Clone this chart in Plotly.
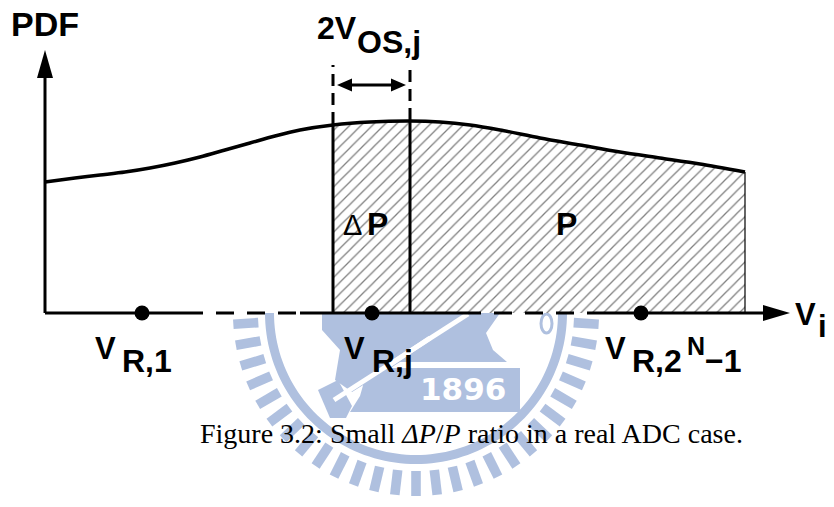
import math
import plotly.graph_objects as go

# ---- data -------------------------------------------------------------
# PDF of the ADC input, sampled along the Vi axis (origin at the axes corner)
vin = [0, 30, 55, 80, 105, 130, 155, 180, 205, 230, 255, 288, 325, 365,
       395, 425, 455, 495, 535, 575, 615, 655, 700]
pdf = [131, 135, 138, 141, 145, 150, 156, 163, 170, 177, 183, 188, 191, 192,
       191, 188, 183, 175, 168, 161, 155, 149, 141]
# reference levels V_R,1, V_R,j, V_R,2^N-1
vr_pos = [97, 327, 596]
# comparator offset window around V_R,j (edges of Delta P)
window = [288, 365]
# end of the input range
vin_max = 700

W, H = 834, 507
OX, OY = 45, 313          # page position of the axes corner
BLUE = "#afc0df"
FONT = "Liberation Sans, Arial, sans-serif"


def d(x, y):
    """page pixel -> data coordinates"""
    return x - OX, OY - y


def path(points, close=True):
    s = "M " + " L ".join(f"{x:.2f},{y:.2f}" for x, y in points)
    return s + (" Z" if close else "")


def ppath(points, close=True):
    return path([d(x, y) for x, y in points], close)


fig = go.Figure()
shapes = []

# ---- watermark emblem (lower half, behind everything) -----------------
cx, cy = d(416, 313)
# solid ring
r_in, r_out = 142, 151
ring = [(cx + r_out * math.cos(t), cy - r_out * math.sin(t))
        for t in [math.pi * i / 90 for i in range(91)]]
ring += [(cx + r_in * math.cos(t), cy - r_in * math.sin(t))
         for t in [math.pi * i / 90 for i in range(90, -1, -1)]]
shapes.append(dict(type="path", path=path(ring), fillcolor=BLUE,
                   line=dict(width=0), layer="below"))
# radial ticks
n_ticks = 27
for k in range(n_ticks):
    t = math.radians(3.5 + k * (173.0 / (n_ticks - 1)))
    ux, uy = math.cos(t), -math.sin(t)
    vx, vy = -uy, ux
    hw = 4.8
    r1, r2 = 158, 183
    pts = [(cx + ux * r1 + vx * hw, cy + uy * r1 + vy * hw),
           (cx + ux * r2 + vx * hw, cy + uy * r2 + vy * hw),
           (cx + ux * r2 - vx * hw, cy + uy * r2 - vy * hw),
           (cx + ux * r1 - vx * hw, cy + uy * r1 - vy * hw)]
    shapes.append(dict(type="path", path=path(pts), fillcolor=BLUE,
                       line=dict(width=0), layer="below"))
# inner emblem
emblem = [
    [(322, 313), (500, 313), (486, 333), (493, 350), (507, 362), (400, 362),
     (352, 392), (335, 380), (340, 350), (322, 330)],
    [(368, 368), (520, 368), (520, 412), (350, 412), (360, 396)],
    [(318, 390), (338, 380), (352, 406), (346, 418), (330, 418)],
]
for poly in emblem:
    shapes.append(dict(type="path", path=ppath(poly), fillcolor=BLUE,
                       line=dict(width=0), layer="below"))
for seg in [[(468, 314), (334, 400)], [(430, 338), (388, 366)]]:
    shapes.append(dict(type="path", path=ppath(seg, close=False),
                       line=dict(color="white", width=5), layer="below"))
shapes.append(dict(type="circle", xref="x", yref="y",
                   x0=d(541, 0)[0], x1=d(552, 0)[0], y0=d(0, 333)[1], y1=d(0, 314)[1],
                   line=dict(color=BLUE, width=3), layer="below"))

# ---- hatched region P (from V_R,j - V_OS,j to the end of the range) ----
i0 = vin.index(window[0])
fig.add_trace(go.Scatter(
    x=vin[i0:], y=pdf[i0:], mode="lines", fill="tozeroy",
    line=dict(width=0, shape="spline", smoothing=0.8),
    fillcolor="white",
    fillpattern=dict(shape="/", fgcolor="black", bgcolor="white",
                     size=8, solidity=0.16),
    hoverinfo="skip"))

# PDF curve
fig.add_trace(go.Scatter(
    x=vin, y=pdf, mode="lines",
    line=dict(color="black", width=3.5, shape="spline", smoothing=0.8),
    hoverinfo="skip"))

# window edges and right end of the range
for xv, w in [(window[0], 3), (window[1], 3), (vin_max, 1.2)]:
    yv = pdf[vin.index(xv)]
    shapes.append(dict(type="line", x0=xv, x1=xv, y0=0, y1=yv,
                       line=dict(color="black", width=w)))
# dashed extensions marking 2V_OS,j
for xv in window:
    yv = pdf[vin.index(xv)]
    shapes.append(dict(type="line", x0=xv, x1=xv, y0=yv + 1, y1=248,
                       line=dict(color="black", width=3, dash="12px,7px")))

# ---- axes ---------------------------------------------------------------
axis_w = 3
# Vi axis: solid and dashed pieces
for x0, x1, dash in [(0, 140, "solid"), (140, 255, "18px,13px"),
                     (255, 418, "solid"), (418, 552, "18px,13px"),
                     (552, 720, "solid")]:
    shapes.append(dict(type="line", x0=x0, x1=x1, y0=0, y1=0,
                       line=dict(color="black", width=axis_w, dash=dash)))
# PDF axis
shapes.append(dict(type="line", x0=0, x1=0, y0=0, y1=238,
                   line=dict(color="black", width=axis_w)))
# arrow heads
shapes.append(dict(type="path", path=path([(0, 263), (-8, 235), (8, 235)]),
                   fillcolor="black", line=dict(width=0)))
shapes.append(dict(type="path", path=path([(745, 0), (718, 8), (718, -8)]),
                   fillcolor="black", line=dict(width=0)))
# double arrow for 2V_OS,j
ya = 228
shapes.append(dict(type="line", x0=window[0] + 12, x1=window[1] - 12, y0=ya, y1=ya,
                   line=dict(color="black", width=3)))
shapes.append(dict(type="path",
                   path=path([(window[0] + 4, ya), (window[0] + 19, ya + 6.5),
                              (window[0] + 19, ya - 6.5)]),
                   fillcolor="black", line=dict(width=0)))
shapes.append(dict(type="path",
                   path=path([(window[1] - 4, ya), (window[1] - 19, ya + 6.5),
                              (window[1] - 19, ya - 6.5)]),
                   fillcolor="black", line=dict(width=0)))

# reference-level dots
fig.add_trace(go.Scatter(x=vr_pos, y=[0] * len(vr_pos), mode="markers",
                         marker=dict(color="black", size=15),
                         hoverinfo="skip"))

# ---- text ----------------------------------------------------------------
ann = []


def label(text, x, y, size=31, bold=True, anchor="left", family=FONT,
          color="black"):
    xd, yd = d(x, y)
    ann.append(dict(x=xd, y=yd, xref="x", yref="y", text=text, showarrow=False,
                    xanchor=anchor, yanchor="middle", borderpad=0,
                    font=dict(family=family, size=size, color=color,
                              weight="bold" if bold else "normal")))


label("1896", 463, 389, size=31, anchor="center",
      family="DejaVu Sans, sans-serif", color="white")

label("PDF", 45, 24, size=34, anchor="center")
label("2V", 316, 28, size=32)
label("OS,j", 356, 42, size=32)
label("V", 794, 314)
label("i", 817, 326)
label("Δ", 342, 225, size=29, bold=False)
label("P", 366, 224, size=32)
label("P", 555, 224, size=32)
label("V", 94, 348)
label("R,1", 121, 361, size=32)
label("V", 343, 348)
label("R,j", 371, 361, size=32)
label("V", 604, 348)
label("R,2", 631, 361, size=32)
label("N", 686, 346, size=25)
label("−1", 704, 361, size=32)

label("Figure 3.2: Small <i>ΔP</i>/<i>P</i> ratio in a real ADC case.",
      471, 433, size=28, bold=False, anchor="center",
      family="Liberation Serif, Times New Roman, serif")

fig.update_layout(
    width=W, height=H,
    margin=dict(l=0, r=0, t=0, b=0),
    paper_bgcolor="white", plot_bgcolor="white",
    showlegend=False,
    xaxis=dict(range=[-OX, W - OX], visible=False, fixedrange=True),
    yaxis=dict(range=[OY - H, OY], visible=False, fixedrange=True),
    shapes=shapes, annotations=ann,
)

fig.write_html("out.html")
